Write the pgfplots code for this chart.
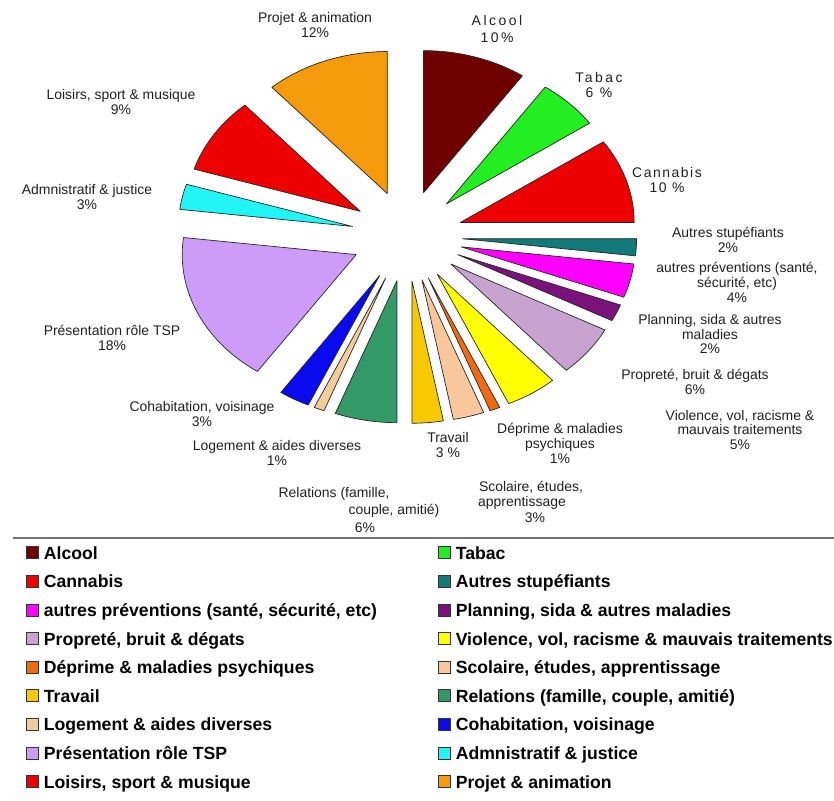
\documentclass[border=0pt]{standalone}
\usepackage{fontspec}
\setmainfont{Liberation Sans}
\usepackage{pgfplots}
\usepackage{pgfplotstable}
\pgfplotsset{compat=1.18}

\definecolor{cAlcool}{HTML}{700000}
\definecolor{cTabac}{HTML}{22EE22}
\definecolor{cCannabis}{HTML}{EE0000}
\definecolor{cStup}{HTML}{127A7A}
\definecolor{cPrev}{HTML}{FF00FF}
\definecolor{cPlanning}{HTML}{7B117B}
\definecolor{cProprete}{HTML}{C9A3CF}
\definecolor{cViolence}{HTML}{FFFF00}
\definecolor{cDeprime}{HTML}{F26A10}
\definecolor{cScolaire}{HTML}{F8C89C}
\definecolor{cTravail}{HTML}{F8C800}
\definecolor{cRelations}{HTML}{339966}
\definecolor{cLogement}{HTML}{F2CC9A}
\definecolor{cCohab}{HTML}{0A0AEE}
\definecolor{cPresentation}{HTML}{CC9CF8}
\definecolor{cAdmin}{HTML}{22F5F5}
\definecolor{cLoisirs}{HTML}{EE0000}
\definecolor{cProjet}{HTML}{F59A0A}

% share of each theme, clockwise from 12 o'clock
\pgfplotstableread{
value color
10 cAlcool
6  cTabac
10 cCannabis
2  cStup
4  cPrev
2  cPlanning
6  cProprete
5  cViolence
1  cDeprime
3  cScolaire
3  cTravail
6  cRelations
1  cLogement
3  cCohab
18 cPresentation
3  cAdmin
9  cLoisirs
12 cProjet
}\piedata

\begin{document}
\begin{tikzpicture}
% pie geometry, in pixels of the page (y downwards)
\def\cx{407}\def\cy{236}\def\rx{174}\def\ry{142}\def\ex{55.7}\def\ey{45.4}
\xdef\pietotal{0}
\pgfplotsforeachungrouped \i in {0,...,17}{%
  \pgfplotstablegetelem{\i}{value}\of\piedata
  \pgfmathparse{\pietotal+\pgfplotsretval}\xdef\pietotal{\pgfmathresult}}
\xdef\cum{0}
\gdef\pieslices{}
\pgfplotsforeachungrouped \i in {0,...,17}{%
  \pgfplotstablegetelem{\i}{value}\of\piedata \let\pV\pgfplotsretval
  \pgfplotstablegetelem{\i}{color}\of\piedata \let\pC\pgfplotsretval
  \pgfmathsetmacro\pA{\cum/\pietotal*360}
  \pgfmathsetmacro\pB{(\cum+\pV)/\pietotal*360}
  \pgfmathsetmacro\pM{(\pA+\pB)/2}
  \pgfmathsetmacro\apx{\cx+\ex*sin(\pM)}
  \pgfmathsetmacro\apy{\cy-\ey*cos(\pM)}
  \pgfmathsetmacro\stx{\apx+\rx*sin(\pA)}
  \pgfmathsetmacro\sty{\apy-\ry*cos(\pA)}
  \pgfmathsetmacro\phA{90-\pA}
  \pgfmathsetmacro\phB{90-\pB}
  \xdef\pieslices{\unexpanded\expandafter{\pieslices}%
    \noexpand\filldraw[fill=\pC,draw=black!85,line width=0.7bp,line join=round]
      (\apx,\apy) -- (\stx,\sty) arc[start angle=\phA,end angle=\phB,x radius=\rx bp,y radius=\ry bp] -- cycle;}
  \pgfmathparse{\cum+\pV}\xdef\cum{\pgfmathresult}}

\tikzset{lab/.style={font=\fontsize{14}{15}\selectfont, text=black!88, align=center, inner sep=0pt}}

\begin{axis}[name=main, scale only axis, width=834bp, height=801bp,
  xmin=0, xmax=834, ymin=0, ymax=801, y dir=reverse, enlargelimits=false,
  hide axis, clip=false,
  legend columns=2, legend cell align=left,
  legend image code/.code={\filldraw[#1, draw=black!80, line width=0.7bp] (0bp,-4bp) rectangle (12bp,8bp);},
  legend style={draw=none, fill=none, at={(axis cs:26,546)}, anchor=north west,
    inner sep=0pt, row sep=11.6bp,
    font=\fontsize{17.7}{20}\selectfont\bfseries,
    nodes={inner xsep=1bp, inner ysep=0pt, text height=13bp, text depth=4bp},
    /tikz/column 1/.style={column sep=4bp},
    /tikz/column 2/.style={column sep=60bp},
    /tikz/column 3/.style={column sep=4bp}},
]
\pieslices

\addlegendimage{fill=cAlcool}\addlegendentry{Alcool}
\addlegendimage{fill=cTabac}\addlegendentry{Tabac}
\addlegendimage{fill=cCannabis}\addlegendentry{Cannabis}
\addlegendimage{fill=cStup}\addlegendentry{Autres stupéfiants}
\addlegendimage{fill=cPrev}\addlegendentry{autres préventions (santé, sécurité, etc)}
\addlegendimage{fill=cPlanning}\addlegendentry{Planning, sida \& autres maladies}
\addlegendimage{fill=cProprete}\addlegendentry{Propreté,  bruit \& dégats}
\addlegendimage{fill=cViolence}\addlegendentry{Violence, vol, racisme \& mauvais traitements}
\addlegendimage{fill=cDeprime}\addlegendentry{Déprime \& maladies psychiques}
\addlegendimage{fill=cScolaire}\addlegendentry{Scolaire, études, apprentissage}
\addlegendimage{fill=cTravail}\addlegendentry{Travail}
\addlegendimage{fill=cRelations}\addlegendentry{Relations (famille, couple, amitié)}
\addlegendimage{fill=cLogement}\addlegendentry{Logement \& aides diverses}
\addlegendimage{fill=cCohab}\addlegendentry{Cohabitation, voisinage}
\addlegendimage{fill=cPresentation}\addlegendentry{Présentation rôle TSP}
\addlegendimage{fill=cAdmin}\addlegendentry{Admnistratif \& justice}
\addlegendimage{fill=cLoisirs}\addlegendentry{Loisirs, sport \& musique}
\addlegendimage{fill=cProjet}\addlegendentry{Projet \& animation}

% slice labels
\node[lab, font=\fontsize{14}{17}\selectfont\addfontfeature{LetterSpace=18}] at (497,29) {Alcool\\10\%};
\node[lab, font=\fontsize{14}{16}\selectfont\addfontfeature{LetterSpace=18}] at (599,85) {Tabac\\6 \%};
\node[lab, font=\fontsize{14}{15}\selectfont\addfontfeature{LetterSpace=11}] at (667,180) {Cannabis\\10 \%};
\node[lab] at (728,240) {Autres stupéfiants\\2\%};
\node[lab] at (737,282) {autres préventions (santé,\\sécurité, etc)\\4\%};
\node[lab] at (710,334) {Planning, sida \& autres\\maladies\\2\%};
\node[lab] at (695,382) {Propreté, bruit \& dégats\\6\%};
\node[lab] at (740,430) {Violence, vol, racisme \&\\mauvais traitements\\5\%};
\node[lab] at (560,443) {Déprime \& maladies\\psychiques\\1\%};
\node[lab] at (531,487) {Scolaire, études,};
\node[lab] at (522,503) {apprentissage};
\node[lab] at (535,518) {3\%};
\node[lab] at (448,445) {Travail\\3 \%};
\node[lab] at (334,494) {Relations (famille,};
\node[lab] at (394,511) {couple, amitié)};
\node[lab] at (365,528) {6\%};
\node[lab] at (277,453) {Logement \& aides diverses\\1\%};
\node[lab] at (202,414) {Cohabitation, voisinage\\3\%};
\node[lab] at (112,338) {Présentation rôle TSP\\18\%};
\node[lab] at (87,197) {Admnistratif \& justice\\3\%};
\node[lab] at (121,102) {Loisirs, sport \& musique\\9\%};
\node[lab] at (315,25) {Projet \& animation\\12\%};

\draw[black!55, line width=1.6bp] (13,538) -- (834,538);
\end{axis}
\pgfresetboundingbox
\useasboundingbox (main.south west) rectangle (main.north east);
\end{tikzpicture}
\end{document}
